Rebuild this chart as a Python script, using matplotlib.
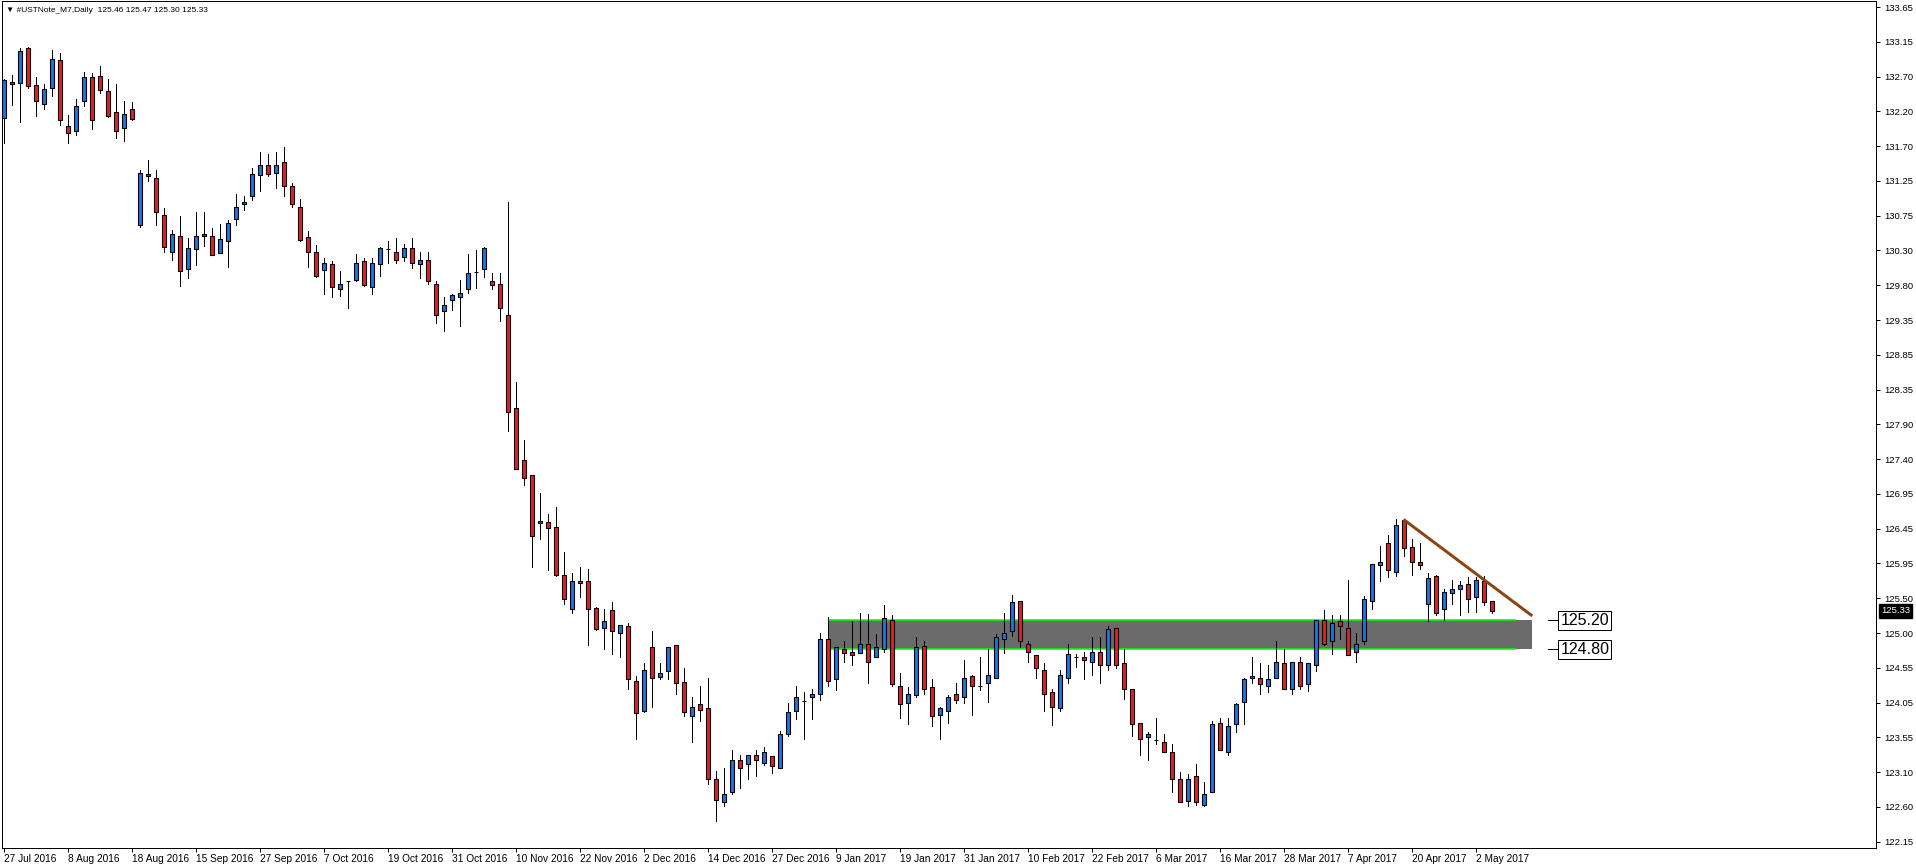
import numpy as np
import matplotlib
matplotlib.use("Agg")
import matplotlib.pyplot as plt
from matplotlib.patches import Rectangle
from matplotlib.collections import LineCollection

# ---------------- data (daily OHLC, bar index 0 = 27 Jul 2016) ----------------
opens = [132.12, 132.62, 132.60, 133.09, 132.57, 132.31, 132.53, 132.92, 132.01, 131.94,
         132.35, 132.68, 132.70, 132.50, 132.20, 131.99, 132.24, 130.64, 131.35, 131.30,
         130.79, 130.27, 130.50, 130.04, 130.31, 130.52, 130.50, 130.26, 130.42, 130.73,
         130.93, 131.04, 131.33, 131.48, 131.37, 131.51, 131.19, 130.90, 130.48, 130.27,
         130.02, 130.11, 129.77, 129.88, 129.89, 130.15, 129.79, 130.11, 130.32, 130.28,
         130.20, 130.33, 130.11, 130.17, 129.83, 129.46, 129.62, 129.65, 129.76, 130.00,
         130.04, 129.87, 129.84, 129.40, 128.12, 127.41, 127.20, 126.54, 126.55, 126.48,
         125.82, 125.35, 125.74, 125.74, 125.37, 125.10, 125.34, 125.02, 125.12, 124.36,
         123.95, 124.83, 124.42, 124.50, 124.86, 124.35, 123.88, 124.04, 123.99, 123.01,
         122.69, 122.83, 123.27, 123.22, 123.34, 123.24, 123.33, 123.16, 123.63, 123.95,
         124.09, 124.14, 124.19, 124.94, 124.39, 124.80, 124.77, 124.75, 124.87, 124.69,
         124.81, 125.21, 124.29, 124.06, 124.17, 124.84, 124.28, 123.90, 123.95, 124.18,
         124.14, 124.43, 124.29, 124.33, 124.41, 124.94, 125.05, 125.46, 124.88, 124.72,
         124.52, 124.21, 123.99, 124.41, 124.69, 124.69, 124.63, 124.77, 124.58, 125.09,
         124.61, 124.25, 123.78, 123.59, 123.55, 123.52, 123.38, 123.01, 122.71, 123.05,
         122.65, 122.83, 123.78, 123.38, 123.77, 124.07, 124.40, 124.41, 124.30, 124.41,
         124.61, 124.25, 124.62, 124.32, 124.58, 125.20, 124.91, 125.19, 125.10, 124.76,
         124.91, 125.46, 125.96, 126.26, 125.87, 126.58, 126.21, 126.00, 125.43, 125.81,
         125.35, 125.57, 125.63, 125.70, 125.52, 125.74, 125.46]
highs = [132.66, 132.71, 133.09, 133.10, 132.69, 132.59, 133.06, 133.02, 132.16, 132.38,
         132.76, 132.74, 132.84, 132.66, 132.59, 132.36, 132.34, 131.40, 131.54, 131.40,
         130.88, 130.58, 130.77, 130.47, 130.83, 130.83, 130.61, 130.66, 130.71, 131.07,
         131.04, 131.43, 131.65, 131.63, 131.65, 131.72, 131.22, 131.00, 130.57, 130.37,
         130.19, 130.15, 130.01, 129.88, 130.25, 130.19, 130.19, 130.35, 130.42, 130.47,
         130.39, 130.47, 130.28, 130.27, 129.88, 129.65, 129.69, 129.89, 130.25, 130.30,
         130.35, 129.98, 129.98, 130.97, 128.48, 127.68, 127.20, 126.96, 126.66, 126.76,
         126.14, 125.85, 125.94, 125.90, 125.38, 125.35, 125.45, 125.13, 125.16, 124.43,
         124.61, 125.05, 124.61, 124.83, 124.86, 124.54, 124.14, 124.29, 124.41, 123.12,
         123.16, 123.41, 123.34, 123.35, 123.41, 123.45, 123.33, 123.68, 124.06, 124.30,
         124.21, 124.26, 125.02, 125.24, 124.83, 124.91, 125.19, 125.30, 125.29, 125.01,
         125.41, 125.27, 124.47, 124.28, 124.97, 124.91, 124.39, 124.00, 124.17, 124.33,
         124.65, 124.44, 124.69, 124.80, 125.01, 125.30, 125.55, 125.46, 124.91, 124.72,
         124.61, 124.25, 124.51, 124.88, 124.73, 124.77, 124.97, 124.97, 125.12, 125.10,
         124.80, 124.26, 123.78, 123.66, 123.85, 123.63, 123.49, 123.11, 123.08, 123.22,
         122.97, 123.81, 123.85, 123.85, 124.06, 124.41, 124.69, 124.61, 124.58, 124.91,
         124.80, 124.63, 124.69, 124.61, 125.21, 125.34, 125.27, 125.27, 125.76, 125.02,
         125.54, 125.98, 126.23, 126.38, 126.60, 126.59, 126.32, 126.26, 125.85, 125.83,
         125.63, 125.76, 125.74, 125.79, 125.79, 125.81, 125.47]
lows = [131.78, 132.30, 132.06, 132.53, 132.15, 132.24, 132.42, 132.03, 131.77, 131.89,
        132.28, 131.97, 132.47, 132.14, 131.84, 131.80, 132.10, 130.62, 131.26, 130.64,
        130.28, 130.16, 129.80, 129.92, 130.10, 130.36, 130.24, 130.26, 130.07, 130.64,
        130.85, 130.99, 131.12, 131.32, 131.15, 131.04, 130.90, 130.42, 130.07, 129.93,
        129.70, 129.65, 129.67, 129.51, 129.88, 129.80, 129.69, 129.95, 130.12, 130.12,
        130.15, 130.05, 129.92, 129.84, 129.29, 129.19, 129.48, 129.26, 129.71, 129.78,
        129.93, 129.76, 129.33, 127.81, 127.29, 127.07, 125.93, 126.32, 125.89, 125.81,
        125.43, 125.30, 125.52, 124.86, 125.07, 124.80, 124.73, 124.69, 124.26, 123.57,
        123.94, 124.00, 124.39, 124.39, 124.19, 123.88, 123.52, 123.81, 122.94, 122.44,
        122.64, 122.80, 122.89, 123.01, 123.05, 123.20, 123.09, 123.16, 123.60, 123.84,
        123.57, 123.84, 124.10, 124.30, 124.24, 124.62, 124.58, 124.75, 124.33, 124.69,
        124.77, 124.30, 123.85, 123.77, 124.15, 124.18, 123.74, 123.56, 123.79, 124.06,
        124.06, 123.90, 124.24, 124.08, 124.40, 124.75, 124.98, 124.83, 124.62, 124.41,
        123.95, 123.76, 123.95, 124.33, 124.55, 124.39, 124.44, 124.33, 124.51, 124.54,
        124.12, 123.60, 123.34, 123.27, 123.49, 123.38, 122.83, 122.69, 122.64, 122.66,
        122.64, 122.83, 123.41, 123.35, 123.66, 123.77, 124.33, 124.18, 124.21, 124.41,
        124.25, 124.19, 124.26, 124.23, 124.50, 124.86, 124.74, 124.94, 124.72, 124.62,
        124.88, 125.35, 125.74, 125.79, 125.81, 126.08, 125.82, 125.90, 125.19, 125.27,
        125.21, 125.43, 125.27, 125.32, 125.32, 125.41, 125.30]
closes = [132.64, 132.59, 133.05, 132.56, 132.35, 132.52, 132.93, 132.09, 131.92, 132.28,
          132.68, 132.10, 132.51, 132.15, 131.94, 132.17, 132.11, 131.37, 131.32, 130.82,
          130.35, 130.52, 130.01, 130.33, 130.50, 130.49, 130.24, 130.46, 130.68, 130.90,
          130.97, 131.35, 131.48, 131.35, 131.48, 131.18, 130.93, 130.44, 130.28, 129.95,
          130.12, 129.79, 129.83, 129.88, 130.13, 129.82, 130.12, 130.33, 130.32, 130.16,
          130.33, 130.12, 130.16, 129.87, 129.40, 129.54, 129.68, 129.71, 129.99, 130.00,
          130.33, 129.82, 129.51, 128.07, 127.29, 127.16, 126.36, 126.57, 126.47, 125.83,
          125.49, 125.74, 125.71, 125.35, 125.08, 125.19, 125.05, 125.13, 124.39, 123.92,
          124.52, 124.40, 124.48, 124.83, 124.33, 123.93, 124.00, 123.96, 123.01, 122.72,
          122.80, 123.27, 123.16, 123.35, 123.27, 123.38, 123.19, 123.63, 123.93, 124.14,
          124.09, 124.18, 124.94, 124.36, 124.83, 124.75, 124.72, 124.87, 124.63, 124.83,
          125.23, 124.32, 124.04, 124.18, 124.83, 124.25, 123.88, 123.99, 124.14, 124.10,
          124.40, 124.30, 124.29, 124.44, 124.97, 125.02, 125.45, 124.91, 124.77, 124.54,
          124.19, 124.00, 124.44, 124.74, 124.69, 124.65, 124.76, 124.58, 125.08, 124.58,
          124.25, 123.77, 123.56, 123.63, 123.55, 123.38, 123.02, 122.69, 123.02, 122.69,
          122.80, 123.77, 123.41, 123.74, 124.04, 124.39, 124.43, 124.32, 124.39, 124.62,
          124.26, 124.63, 124.29, 124.61, 125.21, 124.88, 125.16, 125.12, 124.72, 124.88,
          125.49, 125.98, 126.00, 125.89, 126.51, 126.19, 126.01, 125.96, 125.78, 125.30,
          125.59, 125.63, 125.68, 125.49, 125.76, 125.45, 125.33]

x_labels = ["27 Jul 2016", "8 Aug 2016", "18 Aug 2016", "15 Sep 2016", "27 Sep 2016",
            "7 Oct 2016", "19 Oct 2016", "31 Oct 2016", "10 Nov 2016", "22 Nov 2016",
            "2 Dec 2016", "14 Dec 2016", "27 Dec 2016", "9 Jan 2017", "19 Jan 2017",
            "31 Jan 2017", "10 Feb 2017", "22 Feb 2017", "6 Mar 2017", "16 Mar 2017",
            "28 Mar 2017", "7 Apr 2017", "20 Apr 2017", "2 May 2017"]
label_every = 8
y_tick_labels = ["133.65", "133.15", "132.70", "132.20", "131.70", "131.25", "130.75",
                 "130.30", "129.80", "129.35", "128.85", "128.35", "127.90", "127.40",
                 "126.95", "126.45", "125.95", "125.50", "125.00", "124.55", "124.05",
                 "123.55", "123.10", "122.60", "122.15"]
y_tick_top, y_tick_bottom = 133.65, 122.15

zone_low, zone_high = 124.80, 125.20
zone_start, zone_end = 103, 191
zone_line_end = 189
trend_x = [175, 191.1]
trend_y = [126.59, 125.26]
zone_labels = ["125.20", "124.80"]
title = "\u25bc #USTNote_M7,Daily  125.46 125.47 125.30 125.33"
last_price = 125.33

# ---------------- styling ----------------
BULL = "#1f74d8"
BEAR = "#d9232f"
W, H = 1916, 866
PX = 72.0 / 100.0  # one pixel in points

fig = plt.figure(figsize=(W / 100, H / 100), dpi=100)
fig.patch.set_facecolor("white")
ax_left, ax_right, ax_top, ax_bottom = 2, 1876, 1, 848
ax = fig.add_axes([ax_left / W, 1 - ax_bottom / H, (ax_right - ax_left) / W,
                   (ax_bottom - ax_top) / H])

# price scale: 125.20 sits at pixel row 620.3, 0.013779 per pixel
ppx = 0.013779
p_at = lambda row: 125.20 - (row - 620.3) * ppx
ax.set_ylim(p_at(ax_bottom), p_at(ax_top))
# bar i centred at pixel column 3.5 + 8 i
b_at = lambda col: (col - 3.5) / 8.0
ax.set_xlim(b_at(ax_left), b_at(ax_right))

n = len(opens)
xs = np.arange(n)

# zone (behind candles)
ax.add_patch(Rectangle((zone_start, zone_low), zone_end - zone_start, zone_high - zone_low,
                       facecolor="#6b6b6b", edgecolor="none", zorder=1))
ax.hlines([zone_low, zone_high], zone_start, zone_line_end, colors="#00ff00",
          linewidth=1.6 * PX, zorder=2)

# wicks
segs = [[(x, l), (x, h)] for x, l, h in zip(xs, lows, highs)]
ax.add_collection(LineCollection(segs, colors="black", linewidths=1.0 * PX,
                                 zorder=3, antialiased=False))
# bodies
bw = 0.5
for x, o, c in zip(xs, opens, closes):
    fc = BULL if c > o else (BEAR if c < o else "black")
    ax.add_patch(Rectangle((x - bw / 2, min(o, c)), bw, abs(c - o), facecolor=fc,
                           edgecolor="black", linewidth=1.1 * PX, zorder=4))

# trend line
ax.plot(trend_x, trend_y, color="#8b4513", linewidth=3 * PX, zorder=5,
        solid_capstyle="butt")

# zone labels
for lab in zone_labels:
    lvl = float(lab)
    ax.plot([b_at(1548.3), b_at(1558.3)], [lvl, lvl], color="black",
            linewidth=1 * PX, zorder=5)
    ax.annotate(lab, xy=(b_at(1558.3), lvl), xytext=(2, 0), textcoords="offset pixels",
                ha="left", va="center", fontsize=11.5, family="Liberation Sans",
                bbox=dict(boxstyle="square,pad=0.12", fc="white", ec="black",
                          lw=1 * PX), zorder=6)

# axes styling
for s in ax.spines.values():
    s.set_color("black")
    s.set_linewidth(1 * PX)
ax.yaxis.tick_right()
ax.set_yticks(np.linspace(y_tick_top, y_tick_bottom, len(y_tick_labels)))
ax.set_yticklabels(y_tick_labels, family="Liberation Sans", fontsize=6.8)
ax.tick_params(axis="y", direction="out", length=3, width=1 * PX, pad=3,
               colors="black")
ax.set_xticks(np.arange(0, len(x_labels) * label_every, label_every))
ax.set_xticklabels(x_labels, family="Liberation Sans", fontsize=7.3, ha="left")
ax.tick_params(axis="x", direction="out", length=3, width=1 * PX, pad=1.5,
               colors="black")

# current price box on the axis
ax.annotate(f"{last_price:.2f}", xy=(1, last_price), xycoords=("axes fraction", "data"),
            xytext=(5, 0), textcoords="offset pixels", ha="left", va="center",
            color="white", fontsize=6.8, family="Liberation Sans",
            bbox=dict(boxstyle="square,pad=0.25", fc="black", ec="black"),
            annotation_clip=False)

fig.text(6 / W, 1 - 11 / H, title, fontsize=6.0, ha="left", va="center",
         family=["Liberation Sans", "DejaVu Sans"])

fig.savefig("out.png", dpi=100)
